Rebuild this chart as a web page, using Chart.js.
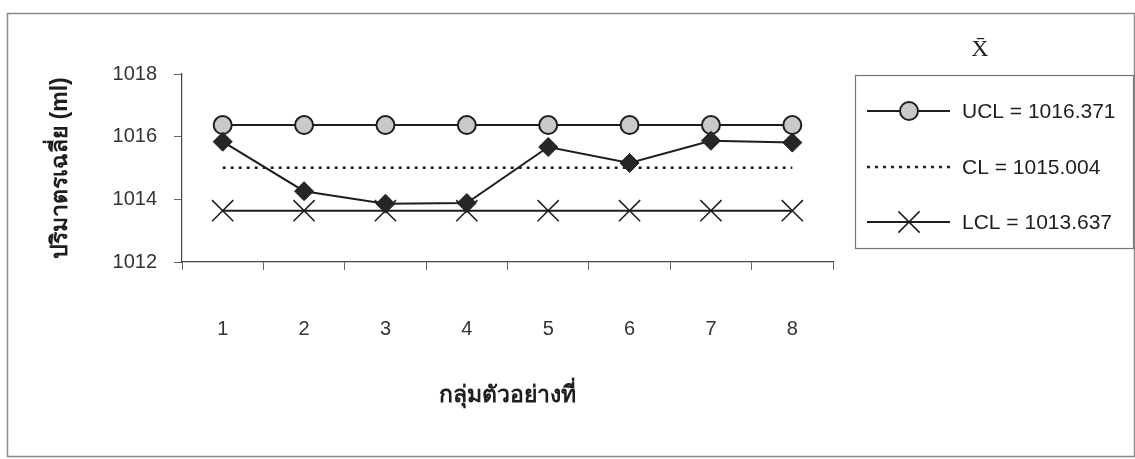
<!DOCTYPE html>
<html>
<head>
<meta charset="utf-8">
<title>X-bar chart</title>
<script src="https://cdn.jsdelivr.net/npm/chart.js@4.4.1/dist/chart.umd.min.js"></script>
<style>
  html, body { margin: 0; padding: 0; background: #fff; }
  #wrap { position: relative; width: 1135px; height: 459px; }
</style>
</head>
<body>
<div id="wrap"><canvas id="xbarChart"></canvas></div>
<script>
// sample groups and their means
const groups = ["1", "2", "3", "4", "5", "6", "7", "8"];
const xbarValues = [1015.84, 1014.26, 1013.86, 1013.88, 1015.67, 1015.16, 1015.87, 1015.81];

// control limits
const uclValue = 1016.371;
const clValue = 1015.004;
const lclValue = 1013.637;

const yTicks = [1012, 1014, 1016, 1018];

const FONT = "'Liberation Sans', Arial, 'DejaVu Sans', sans-serif";
const INK = "#1e1e1e";

// outer frame around the whole chart
const framePlugin = {
  id: "frame",
  beforeDraw(chart) {
    const ctx = chart.ctx;
    ctx.save();
    ctx.fillStyle = "#fff";
    ctx.fillRect(0, 0, chart.width, chart.height);
    ctx.strokeStyle = "#8a8a8a";
    ctx.lineWidth = 1.5;
    ctx.strokeRect(7.5, 13.5, 1127, 443);
    ctx.restore();
  },
};

// legend box on the right, with line + marker samples
const sideLegend = {
  id: "sideLegend",
  afterDraw(chart) {
    const ctx = chart.ctx;
    const box = { left: 855, top: 75, right: 1133, bottom: 248 };
    ctx.save();
    // chart title (x-bar)
    ctx.fillStyle = INK;
    ctx.font = "24px 'Liberation Serif', 'DejaVu Serif', serif";
    ctx.textAlign = "center";
    ctx.textBaseline = "middle";
    ctx.fillText("X\u0304", 980, 50);

    ctx.strokeStyle = "#777";
    ctx.lineWidth = 1.2;
    ctx.strokeRect(box.left + 0.5, box.top + 0.5, box.right - box.left, box.bottom - box.top);

    const rows = [111, 167, 222];
    chart.data.datasets.filter(ds => ds.inLegend).forEach((ds, i) => {
      const y = rows[i];
      ctx.strokeStyle = ds.borderColor;
      ctx.lineWidth = ds.borderWidth;
      ctx.setLineDash(ds.borderDash || []);
      ctx.beginPath();
      ctx.moveTo(867, y);
      ctx.lineTo(950, y);
      ctx.stroke();
      ctx.setLineDash([]);
      if (ds.pointRadius > 0) {
        ctx.fillStyle = ds.pointBackgroundColor;
        ctx.strokeStyle = ds.pointBorderColor;
        ctx.lineWidth = ds.pointBorderWidth;
        Chart.helpers.drawPoint(ctx, {
          pointStyle: ds.pointStyle,
          radius: ds.pointRadius,
          borderWidth: ds.pointBorderWidth,
          rotation: 0,
        }, 909, y);
      }
      ctx.fillStyle = INK;
      ctx.font = "21px " + FONT;
      ctx.textAlign = "left";
      ctx.fillText(ds.label, 962, y + 1);
    });
    ctx.restore();
  },
};

const ctx = document.getElementById("xbarChart").getContext("2d");
const xbarChart = new Chart(ctx, {
  type: "line",
  data: {
    labels: groups,
    datasets: [
      {
        label: "X-bar",
        data: xbarValues,
        borderColor: INK,
        borderWidth: 2,
        pointStyle: "rectRot",
        pointRadius: 9.5,
        pointBackgroundColor: "#262626",
        pointBorderColor: INK,
        pointBorderWidth: 1,
        tension: 0,
      },
      {
        label: `UCL = ${uclValue}`,
        inLegend: true,
        data: groups.map(() => uclValue),
        borderColor: INK,
        borderWidth: 2,
        pointStyle: "circle",
        pointRadius: 9,
        pointBackgroundColor: "#c9c9c9",
        pointBorderColor: INK,
        pointBorderWidth: 2,
      },
      {
        label: `CL = ${clValue}`,
        inLegend: true,
        data: groups.map(() => clValue),
        borderColor: INK,
        borderWidth: 2.5,
        borderDash: [3, 5],
        pointRadius: 0,
      },
      {
        label: `LCL = ${lclValue}`,
        inLegend: true,
        data: groups.map(() => lclValue),
        borderColor: INK,
        borderWidth: 2,
        pointStyle: "crossRot",
        pointRadius: 15,
        pointBackgroundColor: INK,
        pointBorderColor: INK,
        pointBorderWidth: 1.5,
      },
    ],
  },
  options: {
    responsive: true,
    maintainAspectRatio: false,
    animation: false,
    events: [],
    layout: { padding: { top: 74, right: 302, left: 0, bottom: 0 } },
    scales: {
      x: {
        offset: true,
        grid: { offset: true, drawOnChartArea: false, tickLength: 8, color: "#666" },
        border: { color: "#444", width: 1.2 },
        ticks: { color: "#333", padding: 47, font: { family: FONT, size: 20 } },
        title: {
          display: true,
          text: "กลุ่มตัวอย่างที่",
          color: INK,
          font: { family: FONT, size: 23, weight: "bold" },
          padding: { top: 0, bottom: 50 },
        },
        afterFit(scale) { scale.height = 197; },
      },
      y: {
        min: 1012,
        max: 1018,
        afterBuildTicks(scale) { scale.ticks = yTicks.map(v => ({ value: v })); },
        grid: { drawOnChartArea: false, tickLength: 8, color: "#666" },
        border: { color: "#444", width: 1.2 },
        ticks: {
          color: "#333",
          padding: 17,
          font: { family: FONT, size: 20 },
          callback: (v) => String(v),
        },
        title: {
          display: true,
          text: "ปริมาตรเฉลี่ย (ml)",
          color: INK,
          font: { family: FONT, size: 23, weight: "bold" },
          padding: { top: 47, bottom: 0 },
        },
        afterFit(scale) { scale.width = 182; },
      },
    },
    plugins: {
      legend: { display: false },
      tooltip: { enabled: false },
    },
  },
  plugins: [framePlugin, sideLegend],
});
</script>
</body>
</html>
